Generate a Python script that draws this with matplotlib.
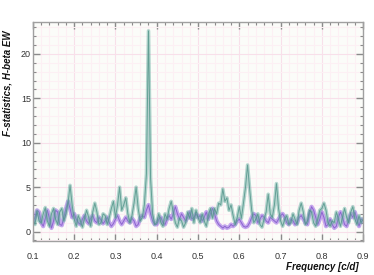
import matplotlib
matplotlib.use("Agg")
import matplotlib.pyplot as plt
import numpy as np
from matplotlib.ticker import MultipleLocator

# frequency grid [c/d], step 0.005
freq = np.round(np.arange(0.100, 0.9001, 0.005), 3)

# F-statistic, teal series
teal = [
    1.5, 0.8, 2.3, 1.2, 1.0, 2.0, 2.7, 1.2, 0.6, 2.0,
    2.6, 1.4, 0.8, 2.2, 2.6, 1.2, 2.0, 3.2, 5.2, 3.0,
    1.4, 0.6, 1.8, 1.2, 0.5, 1.5, 2.4, 1.6, 0.6, 2.2,
    3.2, 2.2, 0.8, 1.0, 2.0, 1.8, 0.8, 1.6, 2.6, 3.4,
    1.6, 3.0, 5.0, 2.4, 3.0, 3.8, 2.0, 1.0, 1.8, 3.2,
    5.0, 2.6, 1.2, 1.6, 3.0, 6.5, 22.6, 6.0, 2.0, 0.8,
    1.0, 2.0, 1.0, 0.6, 2.0, 1.4, 2.6, 3.4, 2.2, 1.0,
    0.5, 1.5, 1.2, 0.5, 1.0, 2.2, 1.5, 2.6, 1.0, 2.4,
    1.6, 1.0, 2.0, 1.2, 0.6, 1.8, 2.6, 1.5, 2.6, 2.0,
    3.2, 3.0, 4.8, 3.4, 3.8, 2.4, 3.0, 1.8, 0.8, 1.6,
    2.8, 1.5, 3.2, 5.0, 7.5, 4.8, 2.4, 1.0, 1.4, 2.0,
    0.8, 0.5, 1.4, 2.2, 4.2, 2.0, 1.6, 3.0, 5.4, 2.6,
    1.2, 0.6, 1.4, 1.8, 0.8, 1.0, 2.0, 1.4, 0.8, 2.4,
    3.2, 2.2, 0.8, 1.2, 2.4, 2.2, 1.0, 0.6, 1.4, 2.4,
    2.6, 3.2, 2.4, 1.0, 0.6, 1.2, 1.0, 2.2, 1.4, 0.6,
    1.6, 2.6, 1.6, 1.0, 2.2, 2.8, 1.4, 0.8, 1.8, 1.0,
    1.4,
]

# F-statistic, purple series
purple = [
    1.0, 1.6, 2.4, 2.2, 1.0, 0.6, 1.5, 2.4, 1.5, 0.4,
    1.2, 2.4, 2.2, 0.8, 0.7, 1.6, 2.6, 3.4, 2.6, 1.6,
    2.0, 1.4, 1.0, 0.8, 1.4, 1.8, 1.2, 0.9, 1.5, 1.8,
    1.2, 1.0, 1.6, 1.3, 0.9, 1.2, 1.6, 1.0, 0.6, 0.9,
    1.4, 1.8, 1.2, 0.8, 1.2, 1.6, 1.2, 1.0, 1.5, 1.2,
    0.6, 0.8, 1.6, 1.8, 1.6, 2.4, 3.0, 2.0, 1.2, 0.8,
    0.8, 1.4, 1.6, 1.0, 0.8, 1.4, 1.8, 1.4, 2.0, 2.8,
    2.0, 1.4, 2.0, 1.6, 1.2, 1.6, 2.2, 1.4, 1.6, 2.0,
    1.6, 1.8, 1.2, 1.6, 2.2, 1.4, 2.0, 2.6, 2.0, 1.2,
    0.8, 0.6, 0.4, 0.6, 0.4, 0.5, 0.8, 0.6, 0.8, 1.2,
    1.4, 1.0, 0.6, 0.5, 0.6, 1.0, 1.6, 2.0, 1.8, 1.0,
    1.4, 1.8, 1.6, 1.2, 1.0, 1.6, 1.4, 1.2, 1.0, 1.4,
    1.8, 2.0, 1.6, 1.0, 0.8, 1.4, 1.2, 0.8, 1.0, 1.6,
    1.8, 1.4, 1.0, 0.8, 2.0, 2.8, 2.4, 1.6, 0.8, 1.4,
    2.2, 1.6, 0.6, 0.8, 1.4, 0.8, 0.4, 0.6, 1.6, 2.2,
    1.6, 0.8, 0.6, 1.4, 2.0, 1.6, 2.2, 1.4, 0.6, 1.4,
    1.2,
]

TEAL = "#6aaea3"
PURPLE = "#a070e6"
GRID_MINOR = "#fcf0f4"
GRID_MAJOR = "#f8e0ea"

plt.rcParams["font.family"] = ["Liberation Sans", "DejaVu Sans"]

fig = plt.figure(figsize=(3.74, 2.75), dpi=100)
ax = fig.add_axes([0.088, 0.124, 0.883, 0.796])
ax.set_facecolor("#fbfcf9")

# fuzzy bands: a wide faint stroke with a thin core on top
ax.plot(freq, purple, color=PURPLE, lw=3.0, alpha=0.6, solid_joinstyle="round")
ax.plot(freq, purple, color="#7e55c8", lw=0.7, alpha=0.8)
ax.plot(freq, teal, color=TEAL, lw=2.6, alpha=0.5, solid_joinstyle="round")
ax.plot(freq, teal, color="#4f9488", lw=0.7, alpha=0.8)

ax.set_xlim(0.1, 0.9)
ax.set_ylim(-1.05, 23.6)

ax.xaxis.set_major_locator(MultipleLocator(0.1))
ax.xaxis.set_minor_locator(MultipleLocator(0.02))
ax.yaxis.set_major_locator(MultipleLocator(5))
ax.yaxis.set_minor_locator(MultipleLocator(1))

ax.grid(which="minor", color=GRID_MINOR, lw=0.8, zorder=0)
ax.grid(which="major", color=GRID_MAJOR, lw=0.8, zorder=0)
ax.set_axisbelow(True)

ax.tick_params(which="both", direction="in", top=True, right=True,
               color="#8a8a8a", labelsize=6.5, labelcolor="#333333")
ax.tick_params(which="major", length=5, width=1.0)
ax.tick_params(which="minor", length=2.5, width=0.8)
ax.tick_params(axis="x", pad=8)
ax.tick_params(axis="y", pad=1.5)
ax.set_xticks(np.round(np.arange(0.1, 0.91, 0.1), 1))
ax.set_xticklabels([f"{v:.1f}" for v in np.arange(0.1, 0.91, 0.1)])

for s in ax.spines.values():
    s.set_color("#a0a0a0")
    s.set_linewidth(1.0)

fig.text(0.021, 0.89, "F-statistics, H-beta EW", rotation=90, ha="center",
         va="top", fontsize=7, fontweight="bold", fontstyle="italic", color="#111111")
fig.text(0.958, 0.012, "Frequency [c/d]", ha="right", va="bottom",
         fontsize=7, fontweight="bold", fontstyle="italic", color="#111111")

fig.savefig("out.png", dpi=100)
